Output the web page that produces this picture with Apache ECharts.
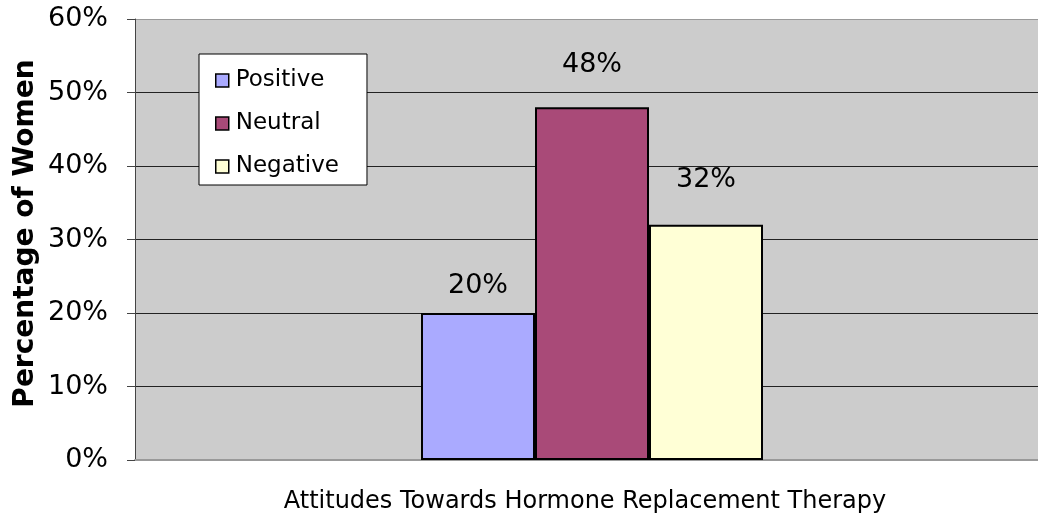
<!DOCTYPE html>
<html>
<head>
<meta charset="utf-8">
<script src="https://cdn.jsdelivr.net/npm/echarts@6/dist/echarts.min.js"></script>
<style>
  html, body { margin: 0; padding: 0; background: #fff; }
  #chart { width: 1038px; height: 515px; }
</style>
</head>
<body>
<div id="chart"></div>
<script>
// chart data
const categories = ['Attitudes'];
const seriesNames = ['Positive', 'Neutral', 'Negative'];
const positive = [20];
const neutral = [48];
const negative = [32];
const barColors = ['#aaaaff', '#a94a78', '#ffffd6'];

const myChart = echarts.init(document.getElementById('chart'));
const font = 'DejaVu Sans, Verdana, sans-serif';

// label distance differs a bit per bar, as in the original
const makeSeries = (name, data, color, labelGap) => ({
    name: name,
    type: 'bar',
    data: data,
    barWidth: 114,
    barGap: '0%',
    itemStyle: { color: color, borderColor: '#000', borderWidth: 2 },
    label: {
        show: true,
        position: 'top',
        distance: labelGap,
        formatter: '{c}%',
        fontFamily: font,
        fontSize: 27,
        color: '#000'
    }
});

const option = {
    animation: false,
    textStyle: { fontFamily: font },
    grid: {
        left: 135, right: -11, top: 19, bottom: 55,
        outerBoundsMode: 'none',
        show: true, backgroundColor: '#cccccc', borderWidth: 0
    },
    legend: {
        orient: 'vertical',
        left: 199, top: 54,
        backgroundColor: '#fff',
        borderColor: '#000',
        borderWidth: 1,
        padding: [15, 28, 7, 16],
        itemGap: 20,
        icon: 'rect',
        itemWidth: 13,
        itemHeight: 13,
        itemStyle: { borderColor: '#000', borderWidth: 1.5 },
        textStyle: { fontFamily: font, fontSize: 23, color: '#000', padding: [0, 0, 0, 2] },
        data: seriesNames
    },
    xAxis: {
        type: 'category',
        data: categories,
        name: 'Attitudes Towards Hormone Replacement Therapy',
        nameLocation: 'middle',
        nameGap: 30,
        nameTextStyle: { fontFamily: font, fontSize: 24, color: '#000', padding: [0, 14, 0, 0] },
        axisLine: { lineStyle: { color: '#999', width: 2 } },
        axisTick: { show: false },
        axisLabel: { show: false }
    },
    yAxis: {
        type: 'value',
        min: 0, max: 60, interval: 10,
        name: 'Percentage of Women',
        nameLocation: 'middle',
        nameGap: 95,
        nameMoveOverlap: false,
        nameTextStyle: { fontFamily: font, fontSize: 28, fontWeight: 'bold', color: '#000', padding: [0, 0, 0, 12] },
        axisLine: { show: true, lineStyle: { color: '#444', width: 1 } },
        axisTick: { show: true, length: 8, lineStyle: { color: '#444' } },
        axisLabel: { formatter: '{value}%', fontFamily: font, fontSize: 27, color: '#000', margin: 27 },
        splitLine: { show: true, lineStyle: { color: ['#999', '#222', '#222', '#222', '#222', '#222', '#999'], width: 1 } }
    },
    series: [
        makeSeries(seriesNames[0], positive, barColors[0], 14),
        makeSeries(seriesNames[1], neutral, barColors[1], 29),
        makeSeries(seriesNames[2], negative, barColors[2], 31)
    ]
};

myChart.setOption(option);
</script>
</body>
</html>
